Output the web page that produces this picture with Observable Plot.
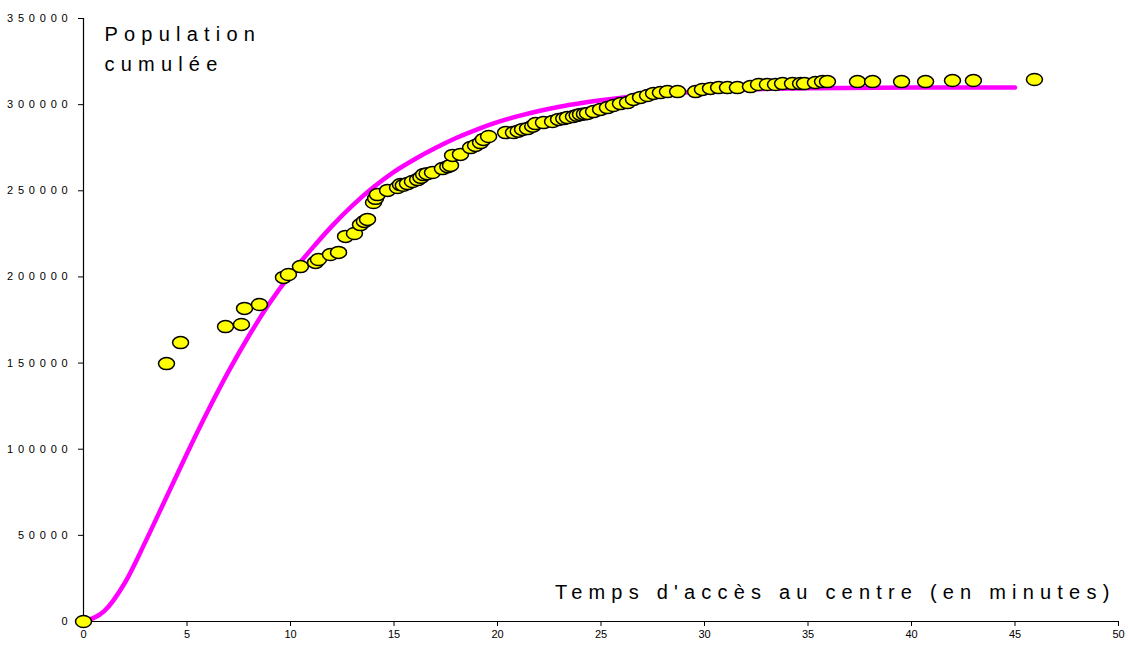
<!DOCTYPE html>
<html>
<head>
<meta charset="utf-8">
<script src="https://cdn.jsdelivr.net/npm/d3@7"></script>
<script src="https://cdn.jsdelivr.net/npm/@observablehq/plot@0.6"></script>
<style>
  html, body { margin: 0; padding: 0; background: #ffffff; }
  #chart { width: 1128px; height: 646px; }
</style>
</head>
<body>
<div id="chart"></div>
<script>
// Observed points: access time (minutes) and cumulative population
const accessTime = [0, 4.01, 4.69, 6.86, 7.63, 7.78, 8.50, 9.66, 9.90, 10.48, 11.21, 11.35, 11.93, 12.32,
  12.66, 13.09, 13.38, 13.57, 13.72, 14.01, 14.11, 14.20, 14.69, 15.17, 15.31, 15.45, 15.65, 15.89, 16.14,
  16.30, 16.43, 16.60, 16.86, 17.34, 17.60, 17.73, 17.83, 18.21, 18.70, 18.94, 19.18, 19.32, 19.57,
  20.39, 20.77, 21.00, 21.21, 21.45, 21.70, 21.84, 22.22, 22.66, 22.95, 23.20, 23.38, 23.67, 23.85, 24.01,
  24.20, 24.35, 24.64, 24.98, 25.31, 25.60, 25.94, 26.28, 26.57, 26.91, 27.25, 27.54, 27.87, 28.21, 28.70,
  29.57, 29.90, 30.29, 30.68, 31.11, 31.59, 32.22, 32.61, 33.04, 33.43, 33.77, 34.25, 34.64, 34.83, 35.36,
  35.70, 35.94, 37.39, 38.12, 39.52, 40.68, 41.98, 42.99, 45.94];
const population = [0, 149700, 161900, 171200, 172400, 181700, 184000, 199700, 201400, 206000, 208400, 210100, 213000, 214200,
  223500, 225200, 230400, 232200, 233400, 243200, 245600, 247800, 250200, 251900, 253600, 253200, 254200, 255400, 256500,
  257800, 259400, 259900, 260600, 262900, 264000, 264700, 270500, 271100, 275100, 276300, 278000, 279800, 281500,
  283800, 283800, 284600, 285600, 286100, 287500, 289000, 289600, 290200, 291400, 291900, 292500, 293100, 293800, 294300,
  294600, 294900, 296000, 297200, 298300, 299500, 300600, 301200, 303000, 304200, 305300, 306500, 307000, 307600, 307600,
  307600, 308800, 309400, 309900, 309900, 309900, 310500, 311700, 311700, 311700, 312200, 312200, 312200, 312200, 312800,
  313400, 313400, 313400, 313400, 313400, 313400, 314000, 314000, 314600];

// Fitted curve
const curveX = [0, 1, 2, 3, 4, 5, 6, 7, 8, 9, 10, 11, 12, 13, 14, 15, 16, 17, 18, 19, 20, 21, 22, 23, 24, 25,
  26, 27, 28, 29, 30, 32, 35, 40, 45];
const curveY = [0, 6000, 22500, 46500, 72000, 97500, 122000, 145000, 166000, 185000, 201500, 216000, 229500, 241500,
  252000, 261000, 268300, 274800, 280600, 285500, 289800, 293300, 296300, 298800, 300800, 302500, 304000, 305300,
  306300, 307100, 307800, 308800, 309500, 309900, 310000];

const xTicks = [0, 5, 10, 15, 20, 25, 30, 35, 40, 45, 50];
const yTicks = [0, 50000, 100000, 150000, 200000, 250000, 300000, 350000];
const yLabelLines = ["Population", "cumulée"];
const xLabelText = "Temps d'accès au centre (en minutes)";

const points = accessTime.map((t, i) => ({t, p: population[i]}));
const curve = curveX.map((t, i) => ({t, p: curveY[i]}));

// ellipse symbol for the dots
const ellipse = {
  draw(ctx) {
    const rx = 8, ry = 6, k = 0.5523;
    ctx.moveTo(rx, 0);
    ctx.bezierCurveTo(rx, ry * k, rx * k, ry, 0, ry);
    ctx.bezierCurveTo(-rx * k, ry, -rx, ry * k, -rx, 0);
    ctx.bezierCurveTo(-rx, -ry * k, -rx * k, -ry, 0, -ry);
    ctx.bezierCurveTo(rx * k, -ry, rx, -ry * k, rx, 0);
    ctx.closePath();
  }
};

const chart = Plot.plot({
  width: 1128,
  height: 646,
  marginLeft: 83,
  marginRight: 10,
  marginTop: 18,
  marginBottom: 25,
  style: {fontFamily: "Arial, 'Liberation Sans', sans-serif", background: "#ffffff", color: "#000"},
  x: {domain: [0, 50]},
  y: {domain: [0, 350000]},
  marks: [
    Plot.axisY({ticks: yTicks, tickFormat: d => String(d), tickSize: 5, tickPadding: 6, fontSize: 11, label: null}),
    Plot.axisX({ticks: xTicks, tickSize: 5, tickPadding: 4, fontSize: 11, fontFamily: "'Liberation Sans Narrow', 'Arial Narrow', Arial, sans-serif", label: null}),
    Plot.ruleX([0], {stroke: "#000", strokeWidth: 1.2}),
    Plot.ruleY([0], {stroke: "#000", strokeWidth: 1.2}),
    Plot.line(curve, {x: "t", y: "p", stroke: "#ff00ff", strokeWidth: 4.5, curve: "monotone-x"}),
    Plot.dot(points, {x: "t", y: "p", symbol: ellipse, fill: "#ffff00", stroke: "#000", strokeWidth: 1.5}),
    Plot.text([yLabelLines.join("\n")], {frameAnchor: "top-left", dx: 21, dy: 1, textAnchor: "start", lineAnchor: "top",
      fontSize: 20, lineHeight: 1.5, fill: "#000"}),
    Plot.text([xLabelText], {frameAnchor: "bottom-right", dx: -3, dy: -23, textAnchor: "end", lineAnchor: "bottom",
      fontSize: 20, fill: "#000"})
  ]
});
document.getElementById("chart").appendChild(chart);

const svg = d3.select(chart);
svg.selectAll('g[aria-label="y-axis tick label"] text').style("letter-spacing", "4.8px");
svg.selectAll('g[aria-label="text"] text').style("letter-spacing", "6.2px");
</script>
</body>
</html>
